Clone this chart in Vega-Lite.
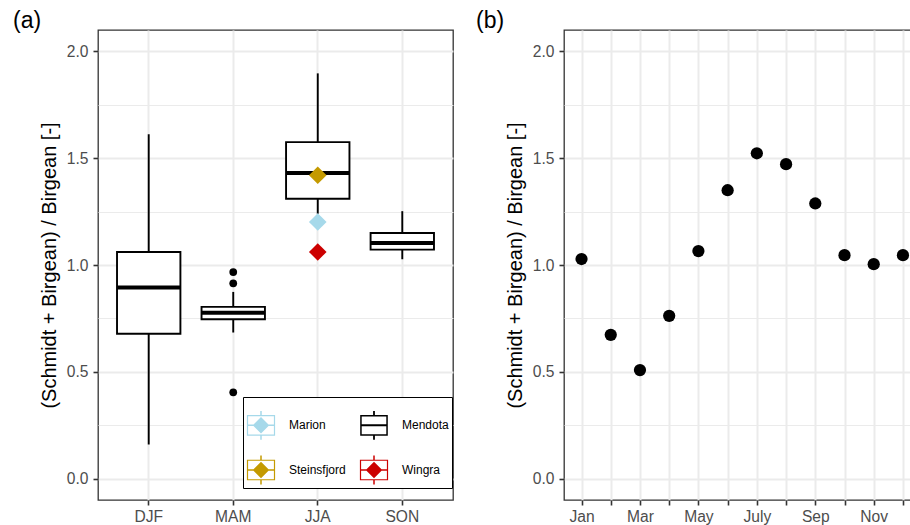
{
  "$schema": "https://vega.github.io/schema/vega-lite/v6.json",
  "padding": {"left": 12, "top": 9, "right": 0, "bottom": 0},
  "background": "white",
  "spacing": 21,
  "resolve": {"scale": {"color": "independent", "shape": "independent", "fill": "independent"}, "legend": {"color": "independent", "shape": "independent", "fill": "independent"}},
  "config": {
    "font": "Liberation Sans",
    "view": {"stroke": "#333333", "strokeWidth": 1.3},
    "axis": {
      "labelFont": "Liberation Sans",
      "labelFontSize": 15.6,
      "labelColor": "#4D4D4D",
      "labelOverlap": false,
      "tickColor": "#333333",
      "tickSize": 5,
      "tickWidth": 1.6,
      "labelPadding": 4,
      "gridColor": "#EBEBEB",
      "gridWidth": 2,
      "domain": false,
      "titleFont": "Liberation Sans",
      "titleFontSize": 20,
      "titleFontWeight": "normal",
      "titleColor": "#000000"
    },
    "title": {"font": "Liberation Sans", "fontWeight": "normal", "color": "#000000", "fontSize": 23}
  },
  "datasets": {
    "boxes": [
      {"season": "DJF", "lower": 0.16, "q1": 0.678, "median": 0.895, "q3": 1.061, "upper": 1.612},
      {"season": "MAM", "lower": 0.684, "q1": 0.746, "median": 0.777, "q3": 0.804, "upper": 0.874},
      {"season": "JJA", "lower": 1.24, "q1": 1.31, "median": 1.431, "q3": 1.575, "upper": 1.897},
      {"season": "SON", "lower": 1.027, "q1": 1.072, "median": 1.103, "q3": 1.15, "upper": 1.252}
    ],
    "outliers": [
      {"season": "MAM", "ratio": 0.967},
      {"season": "MAM", "ratio": 0.914},
      {"season": "MAM", "ratio": 0.404}
    ],
    "lakes": [
      {"lake": "Marion", "season": "JJA", "ratio": 1.201},
      {"lake": "Steinsfjord", "season": "JJA", "ratio": 1.42},
      {"lake": "Wingra", "season": "JJA", "ratio": 1.061}
    ],
    "legendkeys": [
      {"lake": "Marion"},
      {"lake": "Mendota"},
      {"lake": "Steinsfjord"},
      {"lake": "Wingra"}
    ],
    "monthly": [
      {"month": 1, "ratio": 1.028},
      {"month": 2, "ratio": 0.673},
      {"month": 3, "ratio": 0.508},
      {"month": 4, "ratio": 0.762},
      {"month": 5, "ratio": 1.065},
      {"month": 6, "ratio": 1.35},
      {"month": 7, "ratio": 1.523},
      {"month": 8, "ratio": 1.472},
      {"month": 9, "ratio": 1.288},
      {"month": 10, "ratio": 1.046},
      {"month": 11, "ratio": 1.004},
      {"month": 12, "ratio": 1.046}
    ]
  },
  "hconcat": [
    {
      "width": 355,
      "height": 470,
      "title": {"text": "(a)", "anchor": "start", "frame": "group", "dx": -85, "offset": -21, "baseline": "alphabetic"},
      "layer": [
        {
          "data": {"name": "boxes"},
          "mark": {"type": "rule", "color": "#000000", "strokeWidth": 1.9},
          "encoding": {
            "x": {
              "field": "season", "type": "nominal",
              "scale": {"type": "band", "domain": ["DJF", "MAM", "JJA", "SON"], "paddingInner": 0, "paddingOuter": 0.1},
              "axis": {"title": null, "grid": true, "bandPosition": 0.5, "labelAngle": 0, "labelPadding": 4}
            },
            "y": {
              "field": "lower", "type": "quantitative",
              "scale": {"domain": [-0.1, 2.1], "nice": false, "zero": false},
              "axis": {
                "title": "(Schmidt + Birgean) / Birgean [-]",
                "titlePadding": 7,
                "values": [0, 0.25, 0.5, 0.75, 1, 1.25, 1.5, 1.75, 2],
                "labelExpr": "datum.value % 0.5 === 0 ? format(datum.value, '.1f') : ''",
                "labelPadding": 5,
                "tickOpacity": {"condition": {"test": "datum.value % 0.5 !== 0", "value": 0}, "value": 1},
                "gridWidth": {"condition": {"test": "datum.value % 0.5 !== 0", "value": 1}, "value": 2}
              }
            },
            "y2": {"field": "upper"}
          }
        },
        {
          "data": {"name": "boxes"},
          "mark": {"type": "bar", "fill": "#FFFFFF", "stroke": "#000000", "strokeWidth": 1.9, "width": {"band": 0.75}},
          "encoding": {
            "x": {"field": "season", "type": "nominal"},
            "y": {"field": "q1", "type": "quantitative"},
            "y2": {"field": "q3"}
          }
        },
        {
          "data": {"name": "boxes"},
          "mark": {"type": "tick", "color": "#000000", "thickness": 4, "size": 63.4, "opacity": 1},
          "encoding": {
            "x": {"field": "season", "type": "nominal"},
            "y": {"field": "median", "type": "quantitative"}
          }
        },
        {
          "data": {"name": "outliers"},
          "mark": {"type": "circle", "color": "#000000", "size": 60, "opacity": 1},
          "encoding": {
            "x": {"field": "season", "type": "nominal"},
            "y": {"field": "ratio", "type": "quantitative"}
          }
        },
        {
          "data": {"name": "lakes"},
          "mark": {"type": "point", "shape": "diamond", "filled": true, "size": 310, "opacity": 1, "strokeWidth": 0},
          "encoding": {
            "x": {"field": "season", "type": "nominal"},
            "y": {"field": "ratio", "type": "quantitative"},
            "fill": {
              "field": "lake", "type": "nominal",
              "scale": {"domain": ["Marion", "Steinsfjord", "Wingra"], "range": ["#A6D9EA", "#C49A00", "#CC0000"]},
              "legend": null
            }
          }
        },
        {
          "data": {"name": "legendkeys"},
          "mark": {"type": "point", "filled": true, "opacity": 0},
          "encoding": {
            "color": {
              "field": "lake", "type": "nominal",
              "scale": {"domain": ["Marion", "Mendota", "Steinsfjord", "Wingra"], "range": ["#A6D9EA", "#000000", "#C49A00", "#CC0000"]},
              "legend": {
                "title": " ", "titleFontSize": 8, "titlePadding": 2,
                "orient": "none", "legendX": 145, "legendY": 367, "direction": "horizontal",
                "columns": 2, "symbolSize": 900, "symbolStrokeWidth": 0, "symbolOpacity": 1,
                "labelFont": "Liberation Sans", "labelFontSize": 12, "labelColor": "#000000",
                "labelOffset": 13, "columnPadding": 13, "rowPadding": 15, "padding": 3,
                "strokeColor": "#000000", "fillColor": "#FFFFFF"
              }
            },
            "shape": {
              "field": "lake", "type": "nominal",
              "scale": {
                "domain": ["Marion", "Mendota", "Steinsfjord", "Wingra"],
                "range": [
                  "M-0.94,-0.69L0.94,-0.69L0.94,0.69L-0.94,0.69ZM-0.86,-0.61L-0.86,0.61L0.86,0.61L0.86,-0.61ZM-0.05,-0.96L0.05,-0.96L0.05,-0.69L-0.05,-0.69ZM-0.05,0.69L0.05,0.69L0.05,0.96L-0.05,0.96ZM-0.86,-0.05L0.86,-0.05L0.86,0.05L-0.86,0.05ZM0,-0.55L0.55,0L0,0.55L-0.55,0Z",
                  "M-0.92,-0.69L0.92,-0.69L0.92,0.69L-0.92,0.69ZM-0.82,-0.59L-0.82,0.59L0.82,0.59L0.82,-0.59ZM-0.06,-0.96L0.06,-0.96L0.06,-0.69L-0.06,-0.69ZM-0.06,0.69L0.06,0.69L0.06,0.96L-0.06,0.96ZM-0.82,-0.07L0.82,-0.07L0.82,0.07L-0.82,0.07Z",
                  "M-0.94,-0.69L0.94,-0.69L0.94,0.69L-0.94,0.69ZM-0.86,-0.61L-0.86,0.61L0.86,0.61L0.86,-0.61ZM-0.05,-0.96L0.05,-0.96L0.05,-0.69L-0.05,-0.69ZM-0.05,0.69L0.05,0.69L0.05,0.96L-0.05,0.96ZM-0.86,-0.05L0.86,-0.05L0.86,0.05L-0.86,0.05ZM0,-0.55L0.55,0L0,0.55L-0.55,0Z",
                  "M-0.94,-0.69L0.94,-0.69L0.94,0.69L-0.94,0.69ZM-0.86,-0.61L-0.86,0.61L0.86,0.61L0.86,-0.61ZM-0.05,-0.96L0.05,-0.96L0.05,-0.69L-0.05,-0.69ZM-0.05,0.69L0.05,0.69L0.05,0.96L-0.05,0.96ZM-0.86,-0.05L0.86,-0.05L0.86,0.05L-0.86,0.05ZM0,-0.55L0.55,0L0,0.55L-0.55,0Z"
                ]
              },
              "legend": {
                "title": " ", "titleFontSize": 8, "titlePadding": 2,
                "orient": "none", "legendX": 145, "legendY": 367, "direction": "horizontal",
                "columns": 2, "symbolSize": 900, "symbolStrokeWidth": 0, "symbolOpacity": 1,
                "labelFont": "Liberation Sans", "labelFontSize": 12, "labelColor": "#000000",
                "labelOffset": 13, "columnPadding": 13, "rowPadding": 15, "padding": 3,
                "strokeColor": "#000000", "fillColor": "#FFFFFF"
              }
            }
          }
        }
      ]
    },
    {
      "width": 348,
      "height": 470,
      "title": {"text": "(b)", "anchor": "start", "frame": "group", "dx": -88, "offset": -21, "baseline": "alphabetic"},
      "mark": {"type": "circle", "color": "#000000", "size": 150, "opacity": 1},
      "data": {"name": "monthly"},
      "encoding": {
        "x": {
          "field": "month", "type": "quantitative",
          "scale": {"domain": [0.4, 12.31], "nice": false, "zero": false},
          "axis": {
            "title": null,
            "values": [1, 2, 3, 4, 5, 6, 7, 8, 9, 10, 11, 12],
            "labelExpr": "['Jan','','Mar','','May','','July','','Sep','','Nov',''][datum.value - 1]",
            "labelPadding": 4,
            "grid": true
          }
        },
        "y": {
          "field": "ratio", "type": "quantitative",
          "scale": {"domain": [-0.1, 2.1], "nice": false, "zero": false},
          "axis": {
            "title": "(Schmidt + Birgean) / Birgean [-]",
            "titlePadding": 7,
            "values": [0, 0.25, 0.5, 0.75, 1, 1.25, 1.5, 1.75, 2],
            "labelExpr": "datum.value % 0.5 === 0 ? format(datum.value, '.1f') : ''",
            "labelPadding": 5,
            "tickOpacity": {"condition": {"test": "datum.value % 0.5 !== 0", "value": 0}, "value": 1},
            "gridWidth": {"condition": {"test": "datum.value % 0.5 !== 0", "value": 1}, "value": 2}
          }
        }
      }
    }
  ]
}
